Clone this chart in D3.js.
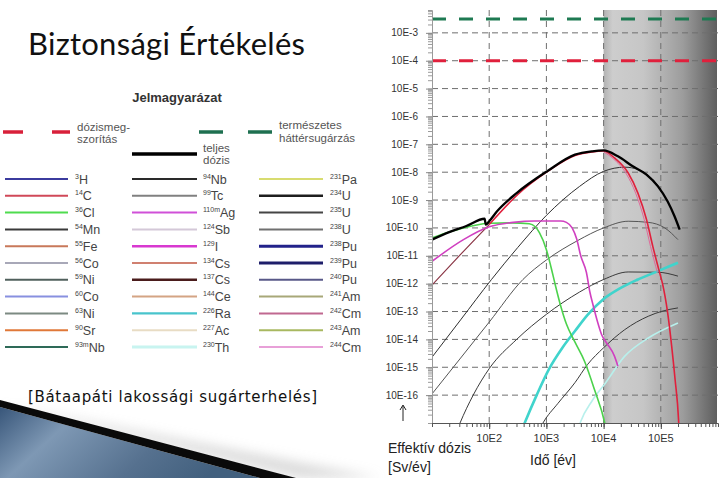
<!DOCTYPE html>
<html>
<head>
<meta charset="utf-8">
<script src="https://cdn.jsdelivr.net/npm/d3@7"></script>
<style>
  body { margin: 0; background: #fff; }
  svg { display: block; font-family: "Liberation Sans", Arial, sans-serif; }
</style>
</head>
<body>
<div id="slide"></div>
<script>
// sizes
const w = 724;
const h = 478;
const plot = { left: 432, right: 718, top: 10, bottom: 423 };

// axis ticks (exponents)
const xTickExp = [2, 3, 4, 5];
const yTickExp = [-3, -4, -5, -6, -7, -8, -9, -10, -11, -12, -13, -14, -15, -16];

// reference levels (log10 Sv/év)
const doseLimitExp = -4;
const backgroundExp = -2.5;

// curves as [log10 év, log10 Sv/év]
const totalDose = [[1.0, -10.42], [1.3, -10.15], [1.6, -9.93], [1.92, -9.67], [1.94, -9.88], [2.0, -9.76], [2.13, -9.42], [2.48, -8.75], [3.01, -7.97], [3.5, -7.37], [3.8, -7.25], [4.0, -7.22], [4.25, -7.43], [4.51, -7.79], [4.75, -8.09], [4.95, -8.51], [5.12, -9.05], [5.24, -9.58], [5.33, -10.06]];
const c14early = [[1.0, -12.05], [1.5, -10.95], [2.0, -9.88]];
const c14 = [[2.0, -9.88], [2.5, -8.8], [3.0, -8.0], [3.5, -7.4], [3.8, -7.27], [4.0, -7.24], [4.19, -7.49], [4.43, -8.03], [4.6, -8.75], [4.75, -9.7], [4.86, -10.66], [4.98, -11.61], [5.03, -12.0], [5.12, -13.05], [5.19, -14.24], [5.25, -15.44], [5.31, -16.87], [5.32, -17.3]];
const c14b = [[4.0, -7.27], [4.17, -7.52], [4.4, -8.07], [4.56, -8.75], [4.71, -9.7], [4.82, -10.66], [4.94, -11.6]];
const cl36 = [[1.0, -10.36], [1.3, -10.15], [1.55, -10.0], [2.0, -9.83], [2.4, -9.82], [2.7, -9.85], [2.8, -9.95], [2.88, -10.18], [3.0, -10.78], [3.08, -11.4], [3.15, -12.0], [3.25, -12.8], [3.35, -13.45], [3.5, -14.1], [3.67, -14.8], [3.84, -15.8], [4.02, -17.0], [4.05, -17.3]];
const i129 = [[1.0, -11.2], [1.55, -10.42], [2.0, -9.96], [2.42, -9.8], [2.8, -9.75], [3.25, -9.75], [3.35, -9.8], [3.45, -10.0], [3.53, -10.4], [3.6, -11.0], [3.7, -11.6], [3.76, -12.3], [3.82, -12.8], [3.9, -13.41], [3.97, -13.85], [4.05, -14.12], [4.19, -14.6], [4.25, -14.96]];
const nuclA = [[0.97, -14.72], [1.5, -13.3], [2.04, -11.85], [2.5, -10.7], [3.0, -9.55], [3.58, -8.51], [4.0, -7.97], [4.37, -7.82], [4.6, -7.9], [4.8, -8.15], [5.0, -8.6]];
const nuclB = [[0.96, -16.06], [1.5, -14.67], [2.0, -13.38], [2.59, -11.85], [3.0, -11.15], [3.55, -10.45], [4.0, -10.0], [4.43, -9.76], [4.78, -9.8], [5.07, -10.0], [5.3, -10.42]];
const nuclC = [[1.45, -17.2], [1.49, -17.0], [1.72, -16.0], [2.0, -15.05], [2.48, -14.0], [3.0, -13.1], [3.58, -12.3], [4.0, -11.85], [4.43, -11.58], [4.95, -11.59], [5.3, -11.73]];
const nuclE = [[2.9, -17.15], [2.94, -17.0], [3.2, -16.3], [3.5, -15.55], [3.72, -14.9], [4.0, -14.3], [4.37, -13.65], [4.78, -13.17], [5.02, -12.99], [5.3, -12.87]];
const ra226 = [[2.6, -17.1], [2.62, -17.0], [2.83, -16.0], [3.05, -15.05], [3.28, -14.3], [3.5, -13.7], [3.72, -13.12], [4.0, -12.55], [4.3, -12.15], [4.6, -11.85], [4.95, -11.55], [5.3, -11.25]];
const th230 = [[3.56, -17.2], [3.6, -16.95], [3.8, -16.2], [4.02, -15.6], [4.37, -14.6], [4.78, -13.95], [5.3, -13.41]];

// legend entries
const legendCol1 = ["3H", "14C", "36Cl", "54Mn", "55Fe", "56Co", "59Ni", "60Co", "63Ni", "90Sr", "93mNb"];
const legendCol2 = ["94Nb", "99Tc", "110mAg", "124Sb", "129I", "134Cs", "137Cs", "144Ce", "226Ra", "227Ac", "230Th"];
const legendCol3 = ["231Pa", "234U", "235U", "238U", "238Pu", "239Pu", "240Pu", "241Am", "242Cm", "243Am", "244Cm"];

// nuclide colours and stroke widths
const nuclColor = {
  "3H": "#3b3b9e", "14C": "#d04858", "36Cl": "#4fdc4f", "54Mn": "#3a3a3a", "55Fe": "#c8785a", "56Co": "#a8a8b8",
  "59Ni": "#50605c", "60Co": "#8890e0", "63Ni": "#7c8a82", "90Sr": "#e07838", "93mNb": "#2e6a58",
  "94Nb": "#2a2a2a", "99Tc": "#808080", "110mAg": "#d050d8", "124Sb": "#d4c8d8", "129I": "#d838d0", "134Cs": "#d08070",
  "137Cs": "#4a1c1c", "144Ce": "#d4a484", "226Ra": "#48c4cc", "227Ac": "#e8dcc4", "230Th": "#c8f4f0",
  "231Pa": "#d8dc70", "234U": "#1e1e1e", "235U": "#454545", "238U": "#707070", "238Pu": "#22228a", "239Pu": "#1e1e6a",
  "240Pu": "#585888", "241Am": "#a8a878", "242Cm": "#c06890", "243Am": "#a8b860", "244Cm": "#e8a0d8"
};
const thick = { "129I": 2.6, "230Th": 3, "238Pu": 3, "239Pu": 3, "234U": 2.6, "137Cs": 2.6, "226Ra": 2.4 };

const svg = d3.select("#slide").append("svg").attr("width", w).attr("height", h);
const defs = svg.append("defs");

// gradients
const shade = defs.append("linearGradient").attr("id", "shade").attr("x1", 0).attr("x2", 1).attr("y1", 0).attr("y2", 0);
[[0, "#b2b2b2"], [0.08, "#cdcdcd"], [0.35, "#c6c6c6"], [0.7, "#9c9c9c"], [1, "#5e5e5e"]]
  .forEach(s => shade.append("stop").attr("offset", s[0]).attr("stop-color", s[1]));

const blue = defs.append("linearGradient").attr("id", "blue").attr("x1", 0).attr("x2", 1).attr("y1", 0).attr("y2", 0.3);
[[0, "#38567a"], [0.3, "#7e98b4"], [0.7, "#56718f"], [1, "#42607e"]]
  .forEach(s => blue.append("stop").attr("offset", s[0]).attr("stop-color", s[1]));

defs.append("filter").attr("id", "blur").append("feGaussianBlur").attr("stdDeviation", 6);

defs.append("clipPath").attr("id", "plotClip").append("rect")
  .attr("x", plot.left).attr("y", plot.top)
  .attr("width", plot.right - plot.left).attr("height", plot.bottom - plot.top);

// title
svg.append("text")
  .attr("x", 28).attr("y", 55)
  .style("font-family", "Lato, 'Open Sans', sans-serif")
  .style("font-size", "31px")
  .attr("textLength", 277).attr("lengthAdjust", "spacing")
  .attr("fill", "#111")
  .text("Biztonsági Értékelés");

// bottom-left decoration
svg.append("polygon")
  .attr("points", "40,412 380,478 300,478 0,405")
  .attr("fill", "#bdbdbd").attr("opacity", 0.55).attr("filter", "url(#blur)");
svg.append("polygon").attr("points", "0,407 260,478 0,478").attr("fill", "url(#blue)");
svg.append("polygon").attr("points", "0,400 296,478 260,478 0,407").attr("fill", "#0a0a0a");

svg.append("text")
  .attr("x", 28).attr("y", 402)
  .style("font-family", "'DejaVu Sans', Verdana, sans-serif")
  .style("font-size", "15px")
  .attr("textLength", 289).attr("lengthAdjust", "spacing")
  .attr("fill", "#111")
  .text("[Bátaapáti lakossági sugárterhelés]");

// ---------- legend ----------
const legend = svg.append("g").attr("id", "legend");

legend.append("text")
  .attr("x", 177).attr("y", 102)
  .attr("text-anchor", "middle")
  .style("font-size", "13px").style("font-weight", "bold")
  .attr("fill", "#333")
  .text("Jelmagyarázat");

const legendText = (x, y, str) => legend.append("text")
  .attr("x", x).attr("y", y)
  .style("font-size", "11.5px").attr("fill", "#555").text(str);

// dózismegszorítás
[[3, 23], [52, 70]].forEach(s => legend.append("line")
  .attr("x1", s[0]).attr("x2", s[1]).attr("y1", 132).attr("y2", 132)
  .attr("stroke", "#d8203a").attr("stroke-width", 3.5));
legendText(77, 131, "dózismeg-");
legendText(77, 143, "szorítás");

// természetes háttérsugárzás
[[199, 223], [248, 272]].forEach(s => legend.append("line")
  .attr("x1", s[0]).attr("x2", s[1]).attr("y1", 132).attr("y2", 132)
  .attr("stroke", "#1e7050").attr("stroke-width", 3.5));
legendText(279, 129, "természetes");
legendText(279, 142, "háttérsugárzás");

// teljes dózis
legend.append("line")
  .attr("x1", 132).attr("x2", 197).attr("y1", 154).attr("y2", 154)
  .attr("stroke", "#000").attr("stroke-width", 3.5);
legendText(203, 152, "teljes");
legendText(203, 164, "dózis");

// nuclide columns
const cols = [
  { items: legendCol1, x1: 5, x2: 68, tx: 75 },
  { items: legendCol2, x1: 132, x2: 197, tx: 203 },
  { items: legendCol3, x1: 259, x2: 323, tx: 330 }
];
const rowY = d3.scaleLinear().domain([0, 10]).range([179, 347]);

cols.forEach(col => {
  col.items.forEach((name, i) => {
    const y = rowY(i);
    legend.append("line")
      .attr("x1", col.x1).attr("x2", col.x2).attr("y1", y).attr("y2", y)
      .attr("stroke", nuclColor[name]).attr("stroke-width", thick[name] || 2);
    const m = name.match(/^(\d+m?)(\D+)$/);
    const t = legend.append("text").attr("x", col.tx).attr("y", y + 4.5).attr("fill", "#444");
    t.append("tspan").style("font-size", "7px").attr("dy", -5).text(m[1]);
    t.append("tspan").style("font-size", "12.5px").attr("dy", 5).text(m[2]);
  });
});

// ---------- chart ----------
const x = d3.scaleLog().domain([10, 1e6]).range([plot.left, plot.right]);
const y = d3.scaleLog().domain([1e-17, Math.pow(10, -2.18)]).range([plot.bottom, plot.top]);
const p10 = v => Math.pow(10, v);

const chart = svg.append("g").attr("id", "chart");

// shaded period after 10E4 years
chart.append("rect")
  .attr("x", x(1e4)).attr("y", plot.top)
  .attr("width", 717 - x(1e4)).attr("height", plot.bottom - plot.top)
  .attr("fill", "url(#shade)");

// grid
chart.selectAll(".hgrid").data(yTickExp).enter().append("line")
  .attr("class", "hgrid")
  .attr("x1", plot.left).attr("x2", plot.right)
  .attr("y1", d => y(p10(d))).attr("y2", d => y(p10(d)))
  .attr("stroke", "#6e6e6e").attr("stroke-width", 1).attr("stroke-dasharray", "6,4");
chart.selectAll(".vgrid").data(xTickExp).enter().append("line")
  .attr("class", "vgrid")
  .attr("x1", d => x(p10(d))).attr("x2", d => x(p10(d)))
  .attr("y1", plot.top).attr("y2", plot.bottom)
  .attr("stroke", "#6e6e6e").attr("stroke-width", 1).attr("stroke-dasharray", "6,5");

// reference levels
chart.append("line")
  .attr("x1", plot.left).attr("x2", w).attr("y1", y(p10(backgroundExp))).attr("y2", y(p10(backgroundExp)))
  .attr("stroke", "#1e7a52").attr("stroke-width", 3).attr("stroke-dasharray", "14,13");
chart.append("line")
  .attr("x1", plot.left).attr("x2", w).attr("y1", y(p10(doseLimitExp))).attr("y2", y(p10(doseLimitExp)))
  .attr("stroke", "#e0203c").attr("stroke-width", 3).attr("stroke-dasharray", "14,13");

// curves
const line = d3.line()
  .x(d => x(p10(d[0])))
  .y(d => y(p10(d[1])))
  .curve(d3.curveMonotoneX);

const series = [
  { data: th230, color: "#b8f0ec", width: 1.6 },
  { data: nuclE, color: "#3a3a3a", width: 1 },
  { data: nuclC, color: "#3a3a3a", width: 1 },
  { data: nuclB, color: "#555", width: 1 },
  { data: nuclA, color: "#2e2e2e", width: 1 },
  { data: ra226, color: "#40d4cc", width: 2.6 },
  { data: c14early, color: "#8a3444", width: 1.2 },
  { data: cl36, color: "#4cd24c", width: 1.6 },
  { data: i129, color: "#d040c0", width: 1.6 },
  { data: c14b, color: "#e06a9a", width: 1 },
  { data: c14, color: "#e0203c", width: 1.6 },
  { data: totalDose, color: "#000", width: 2.3 }
];

const curves = chart.append("g").attr("clip-path", "url(#plotClip)");
curves.selectAll("path").data(series).enter().append("path")
  .attr("d", d => line(d.data))
  .attr("fill", "none")
  .attr("stroke", d => d.color)
  .attr("stroke-width", d => d.width)
  .attr("stroke-linejoin", "round");

// axes
const yMinor = [];
for (let e = -17; e <= -3; e++) for (let k = 1; k <= 9; k++) {
  const v = k * p10(e);
  if (v <= y.domain()[1]) yMinor.push(v);
}
const xMinor = [];
for (let e = 1; e <= 5; e++) for (let k = 1; k <= 9; k++) xMinor.push(k * p10(e));

chart.append("g")
  .attr("transform", `translate(${plot.left},0)`)
  .call(d3.axisLeft(y).tickValues(yMinor).tickSize(4).tickFormat(""))
  .call(g => g.selectAll("line,path").attr("stroke", "#9a9a9a"));
chart.append("g")
  .attr("transform", `translate(${plot.left},0)`)
  .call(d3.axisLeft(y).tickValues(yTickExp.map(p10)).tickSize(6).tickFormat(""))
  .call(g => g.select(".domain").remove())
  .call(g => g.selectAll("line").attr("stroke", "#888"));

chart.append("g")
  .attr("transform", `translate(0,${plot.bottom})`)
  .call(d3.axisBottom(x).tickValues(xMinor).tickSize(4).tickFormat(""))
  .call(g => g.selectAll("line,path").attr("stroke", "#555"));
chart.append("g")
  .attr("transform", `translate(0,${plot.bottom})`)
  .call(d3.axisBottom(x).tickValues(xTickExp.map(p10)).tickSize(6).tickFormat(""))
  .call(g => g.select(".domain").remove())
  .call(g => g.selectAll("line").attr("stroke", "#444"));

// tick labels
chart.selectAll(".ylab").data(yTickExp).enter().append("text")
  .attr("class", "ylab")
  .attr("x", 418).attr("y", d => y(p10(d)) + 3.5)
  .attr("text-anchor", "end")
  .style("font-size", "10px").attr("fill", "#333")
  .text(d => "10E" + d);
chart.selectAll(".xlab").data(xTickExp).enter().append("text")
  .attr("class", "xlab")
  .attr("x", d => x(p10(d))).attr("y", 442)
  .attr("text-anchor", "middle")
  .style("font-size", "11px").attr("fill", "#333")
  .text(d => "10E" + d);

// axis titles
chart.append("text").attr("x", 388).attr("y", 453)
  .style("font-size", "14px").attr("fill", "#222").text("Effektív dózis");
chart.append("text").attr("x", 388).attr("y", 472)
  .style("font-size", "14px").attr("fill", "#222").text("[Sv/év]");
chart.append("text").attr("x", 553).attr("y", 465)
  .attr("text-anchor", "middle")
  .style("font-size", "14px").attr("fill", "#222").text("Idő [év]");

// arrow next to the y axis
chart.append("line").attr("x1", 403).attr("x2", 403).attr("y1", 421).attr("y2", 406)
  .attr("stroke", "#222").attr("stroke-width", 1);
chart.append("path").attr("d", "M400,410 L403,405 L406,410")
  .attr("fill", "none").attr("stroke", "#222").attr("stroke-width", 1);
</script>
</body>
</html>
